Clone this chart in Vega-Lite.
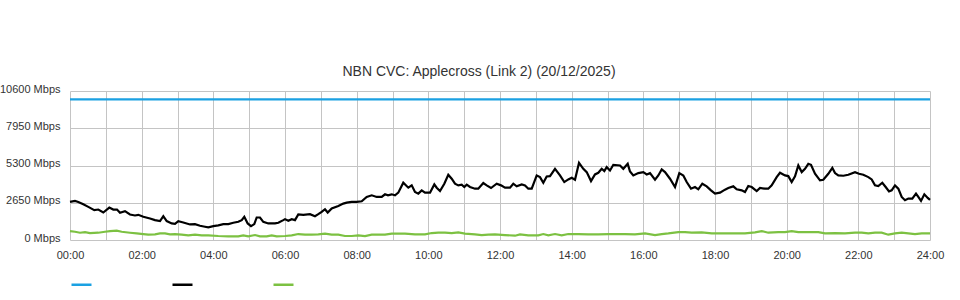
{
  "$schema": "https://vega.github.io/schema/vega-lite/v6.json",
  "autosize": {"type": "none"},
  "padding": {"left": 70, "top": 91, "right": 30, "bottom": 60},
  "width": 860,
  "height": 149,
  "background": "white",
  "title": {"text": "NBN CVC: Applecross (Link 2) (20/12/2025)", "fontSize": 14, "font": "Liberation Sans", "fontWeight": "normal", "color": "#333333", "anchor": "middle", "offset": 4, "dx": -21},
  "config": {
    "view": {"stroke": null},
    "axis": {"labelFont": "Liberation Sans", "labelFontSize": 11, "labelColor": "#333333", "gridColor": "#c4c4c4", "gridWidth": 1, "gridOpacity": 1, "domain": false, "ticks": false, "title": null}
  },
  "data": {"values": [
    {"series":"Capacity","t":0,"v":10000},{"series":"Capacity","t":24,"v":10000},
    {"series":"Download","t":0,"v":2709},{"series":"Download","t":0.14,"v":2780},{"series":"Download","t":0.232,"v":2709},{"series":"Download","t":0.371,"v":2544},{"series":"Download","t":0.511,"v":2356},{"series":"Download","t":0.678,"v":2120},{"series":"Download","t":0.79,"v":2167},{"series":"Download","t":0.929,"v":1956},{"series":"Download","t":1.097,"v":2308},{"series":"Download","t":1.208,"v":2167},{"series":"Download","t":1.312,"v":2167},{"series":"Download","t":1.395,"v":1932},{"series":"Download","t":1.535,"v":2049},{"series":"Download","t":1.674,"v":1814},{"series":"Download","t":1.814,"v":1743},{"series":"Download","t":1.906,"v":1790},{"series":"Download","t":2.046,"v":1650},{"series":"Download","t":2.233,"v":1531},{"series":"Download","t":2.372,"v":1413},{"series":"Download","t":2.512,"v":1343},{"series":"Download","t":2.604,"v":1696},{"series":"Download","t":2.699,"v":1343},{"series":"Download","t":2.838,"v":1178},{"series":"Download","t":2.93,"v":1150},{"series":"Download","t":3.022,"v":1343},{"series":"Download","t":3.162,"v":1249},{"series":"Download","t":3.349,"v":1107},{"series":"Download","t":3.488,"v":1131},{"series":"Download","t":3.628,"v":1013},{"series":"Download","t":3.767,"v":942},{"series":"Download","t":3.86,"v":895},{"series":"Download","t":3.999,"v":990},{"series":"Download","t":4.139,"v":1036},{"series":"Download","t":4.278,"v":1131},{"series":"Download","t":4.418,"v":1131},{"series":"Download","t":4.557,"v":1225},{"series":"Download","t":4.697,"v":1294},{"series":"Download","t":4.792,"v":1413},{"series":"Download","t":4.864,"v":1650},{"series":"Download","t":4.959,"v":1178},{"series":"Download","t":5.051,"v":990},{"series":"Download","t":5.143,"v":1131},{"series":"Download","t":5.21,"v":1602},{"series":"Download","t":5.302,"v":1602},{"series":"Download","t":5.394,"v":1294},{"series":"Download","t":5.534,"v":1178},{"series":"Download","t":5.721,"v":1178},{"series":"Download","t":5.813,"v":1225},{"series":"Download","t":5.953,"v":1413},{"series":"Download","t":6.0,"v":1484},{"series":"Download","t":6.092,"v":1366},{"series":"Download","t":6.187,"v":1484},{"series":"Download","t":6.279,"v":1413},{"series":"Download","t":6.371,"v":1814},{"series":"Download","t":6.511,"v":1790},{"series":"Download","t":6.698,"v":1837},{"series":"Download","t":6.837,"v":1696},{"series":"Download","t":6.929,"v":1837},{"series":"Download","t":7.024,"v":2002},{"series":"Download","t":7.116,"v":2191},{"series":"Download","t":7.192,"v":1955},{"series":"Download","t":7.303,"v":2238},{"series":"Download","t":7.488,"v":2426},{"series":"Download","t":7.627,"v":2591},{"series":"Download","t":7.722,"v":2662},{"series":"Download","t":7.861,"v":2709},{"series":"Download","t":8.001,"v":2709},{"series":"Download","t":8.141,"v":2756},{"series":"Download","t":8.28,"v":3062},{"series":"Download","t":8.42,"v":3180},{"series":"Download","t":8.559,"v":3062},{"series":"Download","t":8.699,"v":3062},{"series":"Download","t":8.791,"v":3250},{"series":"Download","t":8.874,"v":3180},{"series":"Download","t":8.978,"v":3250},{"series":"Download","t":9.07,"v":3180},{"series":"Download","t":9.162,"v":3368},{"series":"Download","t":9.301,"v":4075},{"series":"Download","t":9.441,"v":3722},{"series":"Download","t":9.536,"v":3887},{"series":"Download","t":9.628,"v":3415},{"series":"Download","t":9.72,"v":3298},{"series":"Download","t":9.815,"v":3533},{"series":"Download","t":9.907,"v":3368},{"series":"Download","t":10.047,"v":3368},{"series":"Download","t":10.167,"v":3957},{"series":"Download","t":10.233,"v":3722},{"series":"Download","t":10.326,"v":3486},{"series":"Download","t":10.446,"v":4004},{"series":"Download","t":10.557,"v":4641},{"series":"Download","t":10.652,"v":4358},{"series":"Download","t":10.744,"v":4004},{"series":"Download","t":10.836,"v":3887},{"series":"Download","t":10.931,"v":3933},{"series":"Download","t":11.004,"v":3769},{"series":"Download","t":11.071,"v":3933},{"series":"Download","t":11.163,"v":3769},{"series":"Download","t":11.302,"v":3651},{"series":"Download","t":11.394,"v":3651},{"series":"Download","t":11.534,"v":4051},{"series":"Download","t":11.629,"v":3887},{"series":"Download","t":11.749,"v":3699},{"series":"Download","t":11.908,"v":4004},{"series":"Download","t":12.028,"v":3887},{"series":"Download","t":12.14,"v":3722},{"series":"Download","t":12.279,"v":3722},{"series":"Download","t":12.371,"v":4004},{"series":"Download","t":12.466,"v":3816},{"series":"Download","t":12.606,"v":3957},{"series":"Download","t":12.698,"v":3887},{"series":"Download","t":12.79,"v":3651},{"series":"Download","t":12.885,"v":3651},{"series":"Download","t":13.024,"v":4593},{"series":"Download","t":13.116,"v":4475},{"series":"Download","t":13.209,"v":4075},{"series":"Download","t":13.303,"v":4523},{"series":"Download","t":13.395,"v":4547},{"series":"Download","t":13.535,"v":5067},{"series":"Download","t":13.674,"v":4593},{"series":"Download","t":13.794,"v":4122},{"series":"Download","t":13.906,"v":4311},{"series":"Download","t":14.001,"v":4428},{"series":"Download","t":14.093,"v":4288},{"series":"Download","t":14.205,"v":5491},{"series":"Download","t":14.325,"v":5067},{"series":"Download","t":14.42,"v":4829},{"series":"Download","t":14.54,"v":4193},{"series":"Download","t":14.651,"v":4664},{"series":"Download","t":14.743,"v":4782},{"series":"Download","t":14.838,"v":5067},{"series":"Download","t":14.911,"v":4900},{"series":"Download","t":14.978,"v":5183},{"series":"Download","t":15.07,"v":4947},{"series":"Download","t":15.162,"v":5350},{"series":"Download","t":15.349,"v":5300},{"series":"Download","t":15.441,"v":5067},{"series":"Download","t":15.564,"v":5420},{"series":"Download","t":15.628,"v":4876},{"series":"Download","t":15.72,"v":4593},{"series":"Download","t":15.86,"v":4758},{"series":"Download","t":15.999,"v":4829},{"series":"Download","t":16.094,"v":4664},{"series":"Download","t":16.186,"v":4758},{"series":"Download","t":16.326,"v":4288},{"series":"Download","t":16.418,"v":4593},{"series":"Download","t":16.513,"v":5017},{"series":"Download","t":16.605,"v":4829},{"series":"Download","t":16.744,"v":4358},{"series":"Download","t":16.884,"v":3769},{"series":"Download","t":17.004,"v":4758},{"series":"Download","t":17.116,"v":4593},{"series":"Download","t":17.21,"v":4122},{"series":"Download","t":17.33,"v":3651},{"series":"Download","t":17.442,"v":3769},{"series":"Download","t":17.534,"v":3604},{"series":"Download","t":17.646,"v":4004},{"series":"Download","t":17.768,"v":3816},{"series":"Download","t":17.888,"v":3533},{"series":"Download","t":18.0,"v":3298},{"series":"Download","t":18.14,"v":3368},{"series":"Download","t":18.279,"v":3580},{"series":"Download","t":18.371,"v":3698},{"series":"Download","t":18.511,"v":3816},{"series":"Download","t":18.605,"v":3604},{"series":"Download","t":18.745,"v":3533},{"series":"Download","t":18.837,"v":3415},{"series":"Download","t":18.929,"v":3840},{"series":"Download","t":19.024,"v":3769},{"series":"Download","t":19.164,"v":3486},{"series":"Download","t":19.256,"v":3698},{"series":"Download","t":19.395,"v":3651},{"series":"Download","t":19.487,"v":3651},{"series":"Download","t":19.582,"v":3887},{"series":"Download","t":19.721,"v":4475},{"series":"Download","t":19.814,"v":4782},{"series":"Download","t":19.953,"v":4593},{"series":"Download","t":20.045,"v":4547},{"series":"Download","t":20.14,"v":4122},{"series":"Download","t":20.233,"v":4523},{"series":"Download","t":20.325,"v":5300},{"series":"Download","t":20.42,"v":4829},{"series":"Download","t":20.512,"v":5067},{"series":"Download","t":20.604,"v":5420},{"series":"Download","t":20.679,"v":5350},{"series":"Download","t":20.791,"v":4711},{"series":"Download","t":20.93,"v":4240},{"series":"Download","t":21.022,"v":4288},{"series":"Download","t":21.162,"v":4711},{"series":"Download","t":21.274,"v":5136},{"series":"Download","t":21.349,"v":4758},{"series":"Download","t":21.441,"v":4593},{"series":"Download","t":21.581,"v":4570},{"series":"Download","t":21.72,"v":4641},{"series":"Download","t":21.907,"v":4829},{"series":"Download","t":22.019,"v":4711},{"series":"Download","t":22.139,"v":4641},{"series":"Download","t":22.279,"v":4475},{"series":"Download","t":22.373,"v":4311},{"series":"Download","t":22.465,"v":3887},{"series":"Download","t":22.557,"v":3840},{"series":"Download","t":22.669,"v":4075},{"series":"Download","t":22.763,"v":3769},{"series":"Download","t":22.856,"v":3463},{"series":"Download","t":22.931,"v":3533},{"series":"Download","t":23.023,"v":3887},{"series":"Download","t":23.116,"v":3651},{"series":"Download","t":23.21,"v":3062},{"series":"Download","t":23.302,"v":2827},{"series":"Download","t":23.395,"v":2945},{"series":"Download","t":23.506,"v":2945},{"series":"Download","t":23.609,"v":3298},{"series":"Download","t":23.674,"v":3062},{"series":"Download","t":23.749,"v":2780},{"series":"Download","t":23.842,"v":3250},{"series":"Download","t":23.937,"v":2992},{"series":"Download","t":24,"v":2850},
    {"series":"Upload","t":0,"v":636},{"series":"Upload","t":0.14,"v":589},{"series":"Upload","t":0.279,"v":518},{"series":"Upload","t":0.419,"v":565},{"series":"Upload","t":0.558,"v":495},{"series":"Upload","t":0.79,"v":518},{"series":"Upload","t":0.977,"v":589},{"series":"Upload","t":1.116,"v":636},{"series":"Upload","t":1.303,"v":660},{"series":"Upload","t":1.443,"v":589},{"series":"Upload","t":1.674,"v":518},{"series":"Upload","t":1.861,"v":471},{"series":"Upload","t":2.046,"v":424},{"series":"Upload","t":2.185,"v":377},{"series":"Upload","t":2.372,"v":400},{"series":"Upload","t":2.512,"v":471},{"series":"Upload","t":2.651,"v":471},{"series":"Upload","t":2.791,"v":400},{"series":"Upload","t":2.93,"v":424},{"series":"Upload","t":3.117,"v":377},{"series":"Upload","t":3.301,"v":330},{"series":"Upload","t":3.488,"v":377},{"series":"Upload","t":3.675,"v":330},{"series":"Upload","t":3.86,"v":330},{"series":"Upload","t":4.139,"v":283},{"series":"Upload","t":4.418,"v":259},{"series":"Upload","t":4.697,"v":259},{"series":"Upload","t":4.836,"v":330},{"series":"Upload","t":4.976,"v":259},{"series":"Upload","t":5.163,"v":353},{"series":"Upload","t":5.302,"v":259},{"series":"Upload","t":5.489,"v":259},{"series":"Upload","t":5.629,"v":330},{"series":"Upload","t":5.768,"v":259},{"series":"Upload","t":6.0,"v":283},{"series":"Upload","t":6.187,"v":330},{"series":"Upload","t":6.371,"v":424},{"series":"Upload","t":6.558,"v":377},{"series":"Upload","t":6.745,"v":377},{"series":"Upload","t":6.929,"v":400},{"series":"Upload","t":7.116,"v":448},{"series":"Upload","t":7.303,"v":377},{"series":"Upload","t":7.488,"v":377},{"series":"Upload","t":7.674,"v":283},{"series":"Upload","t":7.861,"v":283},{"series":"Upload","t":8.046,"v":330},{"series":"Upload","t":8.233,"v":283},{"series":"Upload","t":8.42,"v":377},{"series":"Upload","t":8.604,"v":377},{"series":"Upload","t":8.791,"v":377},{"series":"Upload","t":8.978,"v":448},{"series":"Upload","t":9.07,"v":448},{"series":"Upload","t":9.349,"v":448},{"series":"Upload","t":9.628,"v":400},{"series":"Upload","t":9.907,"v":400},{"series":"Upload","t":10.094,"v":495},{"series":"Upload","t":10.278,"v":518},{"series":"Upload","t":10.465,"v":518},{"series":"Upload","t":10.652,"v":495},{"series":"Upload","t":10.836,"v":541},{"series":"Upload","t":11.023,"v":448},{"series":"Upload","t":11.302,"v":400},{"series":"Upload","t":11.489,"v":353},{"series":"Upload","t":11.674,"v":377},{"series":"Upload","t":11.86,"v":400},{"series":"Upload","t":12.14,"v":353},{"series":"Upload","t":12.419,"v":306},{"series":"Upload","t":12.558,"v":400},{"series":"Upload","t":12.79,"v":330},{"series":"Upload","t":13.069,"v":330},{"series":"Upload","t":13.209,"v":424},{"series":"Upload","t":13.348,"v":330},{"series":"Upload","t":13.535,"v":424},{"series":"Upload","t":13.722,"v":330},{"series":"Upload","t":13.906,"v":424},{"series":"Upload","t":14.185,"v":424},{"series":"Upload","t":14.464,"v":400},{"series":"Upload","t":14.743,"v":400},{"series":"Upload","t":15.023,"v":424},{"series":"Upload","t":15.488,"v":424},{"series":"Upload","t":15.767,"v":400},{"series":"Upload","t":16.047,"v":471},{"series":"Upload","t":16.326,"v":353},{"series":"Upload","t":16.513,"v":424},{"series":"Upload","t":16.697,"v":471},{"series":"Upload","t":16.976,"v":565},{"series":"Upload","t":17.163,"v":565},{"series":"Upload","t":17.35,"v":518},{"series":"Upload","t":17.629,"v":541},{"series":"Upload","t":17.908,"v":471},{"series":"Upload","t":18.279,"v":471},{"series":"Upload","t":18.558,"v":471},{"series":"Upload","t":18.837,"v":471},{"series":"Upload","t":19.116,"v":541},{"series":"Upload","t":19.303,"v":636},{"series":"Upload","t":19.487,"v":518},{"series":"Upload","t":19.767,"v":565},{"series":"Upload","t":19.953,"v":565},{"series":"Upload","t":20.14,"v":636},{"series":"Upload","t":20.325,"v":565},{"series":"Upload","t":20.604,"v":565},{"series":"Upload","t":20.883,"v":565},{"series":"Upload","t":21.07,"v":471},{"series":"Upload","t":21.349,"v":495},{"series":"Upload","t":21.628,"v":471},{"series":"Upload","t":21.907,"v":518},{"series":"Upload","t":22.094,"v":518},{"series":"Upload","t":22.279,"v":471},{"series":"Upload","t":22.465,"v":518},{"series":"Upload","t":22.651,"v":518},{"series":"Upload","t":22.837,"v":377},{"series":"Upload","t":23.023,"v":471},{"series":"Upload","t":23.21,"v":518},{"series":"Upload","t":23.395,"v":471},{"series":"Upload","t":23.581,"v":424},{"series":"Upload","t":23.768,"v":471},{"series":"Upload","t":24,"v":471}
  ]},
  "mark": {"type": "line", "strokeWidth": 2.2, "interpolate": "linear"},
  "encoding": {
    "x": {"field": "t", "type": "quantitative", "scale": {"domain": [0, 24], "nice": false, "zero": false},
      "axis": {"values": [0,1,2,3,4,5,6,7,8,9,10,11,12,13,14,15,16,17,18,19,20,21,22,23,24], "labelPadding": 9, "labelExpr": "datum.value % 2 == 0 ? (datum.value < 10 ? '0' : '') + datum.value + ':00' : ''", "labelFlush": false, "labelOverlap": false}},
    "y": {"field": "v", "type": "quantitative", "scale": {"domain": [0, 10600], "nice": false},
      "axis": {"values": [0, 2650, 5300, 7950, 10600], "labelPadding": 10, "labelOffset": -2, "labelExpr": "datum.value + ' Mbps'"}},
    "color": {"field": "series", "type": "nominal",
      "scale": {"domain": ["Capacity", "Download", "Upload"], "range": ["#1ba1e2", "#000000", "#7cc142"]},
      "legend": {"orient": "none", "legendX": 0, "legendY": 182, "direction": "horizontal", "title": null, "symbolType": "stroke", "symbolSize": 400, "symbolStrokeWidth": 2.5, "labelExpr": "''", "labelOffset": 0, "columnPadding": 70, "padding": 0}}
  }
}
